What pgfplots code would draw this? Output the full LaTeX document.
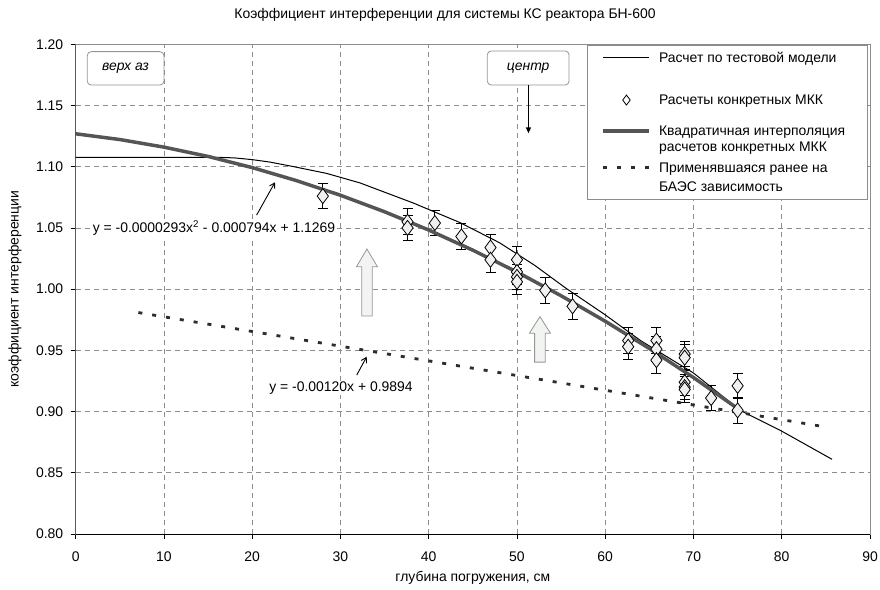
\documentclass[border=0pt]{standalone}
\usepackage{fontspec}
\setmainfont{Liberation Sans}
\usepackage{pgfplots}
\pgfplotsset{compat=1.18}
\usetikzlibrary{arrows.meta}

\definecolor{quadgray}{RGB}{85,85,85}
\definecolor{gridgray}{RGB}{140,140,140}
\definecolor{boxgray}{RGB}{150,150,150}
\definecolor{arrowfill}{RGB}{242,244,242}
\definecolor{dotgray}{RGB}{45,45,45}
\definecolor{markfill}{RGB}{240,240,240}

\tikzset{legtext/.style={anchor=base west, inner sep=0pt, text=black, font=\fontsize{14}{16}\selectfont}}

% legend rows: image + text drawn together, fixed row box
\pgfplotsset{
  legA/.style={legend image code/.code={%
    \draw[##1] (0bp,0bp) -- (46bp,0bp);
    \path[draw=none, fill=none] (0bp,-21bp) rectangle (46bp,10bp);
    \node[legtext] at (55.6bp,-4.8bp) {Расчет по тестовой модели};}},
  legB/.style={legend image code/.code={%
    \draw[##1, draw=none, mark size=5bp, mark options={fill=white, draw=black, line width=0.8bp}] plot coordinates {(23bp,0bp)};
    \path[draw=none, fill=none] (0bp,-21bp) rectangle (46bp,21.7bp);
    \node[legtext] at (55.6bp,-4.8bp) {Расчеты конкретных МКК};}},
  legC/.style={legend image code/.code={%
    \draw[##1] (0bp,0bp) -- (46bp,0bp);
    \path[draw=none, fill=none] (0bp,-27bp) rectangle (46bp,9.7bp);
    \node[legtext] at (55.6bp,-4.8bp) {Квадратичная интерполяция};
    \node[legtext] at (55.6bp,-20.8bp) {расчетов конкретных МКК};}},
  legD/.style={legend image code/.code={%
    \draw[##1] (0bp,0bp) -- (46bp,0bp);
    \path[draw=none, fill=none] (0bp,-28bp) rectangle (46bp,10bp);
    \node[legtext] at (55.6bp,-4.8bp) {Применявшаяся ранее на};
    \node[legtext] at (55.6bp,-23.8bp) {БАЭС зависимость};}},
}

\begin{document}
\begin{tikzpicture}
\begin{axis}[
  at={(0,0)}, anchor=south west,
  scale only axis, width=794.3bp, height=489.7bp,
  font=\fontsize{14}{16}\selectfont,
  xmin=0, xmax=90, ymin=0.80, ymax=1.20,
  xtick={0,10,20,30,40,50,60,70,80,90},
  ytick={0.80,0.85,0.90,0.95,1.00,1.05,1.10,1.15,1.20},
  scaled y ticks=false,
  /pgf/number format/assume math mode=true,
  yticklabel style={xshift=-4bp, /pgf/number format/fixed, /pgf/number format/fixed zerofill, /pgf/number format/precision=2},
  xticklabel style={yshift=-9bp},
  grid=major,
  grid style={gridgray, line width=0.8bp, dash pattern=on 5bp off 4bp},
  axis line style={gridgray, line width=0.8bp},
  tick style={black, line width=0.8bp},
  major tick length=5bp, tick align=outside, tick pos=left,
  title={Коэффициент интерференции для системы КС реактора БН-600},
  every axis title/.style={at={(axis description cs:0,1)}, xshift=369.3bp, yshift=29.3bp, anchor=center},
  xlabel={глубина погружения, см},
  every axis x label/.style={at={(axis description cs:0.5,0)}, yshift=-44bp, anchor=center},
  ylabel={коэффициент интерференции},
  every axis y label/.style={at={(axis description cs:0,0.5)}, xshift=-60.7bp, rotate=90, anchor=center},
  legend style={at={(axis cs:59.6,1.1975)}, anchor=north west, draw=none, fill=none,
    inner sep=0pt, outer sep=0pt, row sep=0pt, column sep=0pt, nodes={inner sep=0pt}},
]
% legend frame and text boxes
\draw[gridgray, line width=0.8bp, fill=white] (axis cs:58.0,1.0734) rectangle (axis cs:89.69,1.1994);
\draw[boxgray, line width=0.8bp, rounded corners=4bp, fill=white] (axis cs:1.31,1.1667) rectangle (axis cs:10.0,1.194);
\node[font=\fontsize{14}{16}\selectfont\itshape] at (axis cs:5.65,1.1804) {верх аз};
\draw[boxgray, line width=0.8bp, rounded corners=4bp, fill=white] (axis cs:46.64,1.1667) rectangle (axis cs:55.9,1.1946);
\node[font=\fontsize{14}{16}\selectfont\itshape] at (axis cs:51.27,1.1806) {центр};
\draw[black, line width=1.4bp, -{Triangle[length=6bp,width=5bp]}] (axis cs:51.3,1.1667) -- (axis cs:51.3,1.1273);

% hollow up arrows
\draw[boxgray, line width=0.8bp, fill=arrowfill] (axis cs:32.4,0.978) -- (axis cs:32.4,1.0183) -- (axis cs:31.81,1.0183) -- (axis cs:33,1.0328) -- (axis cs:34.19,1.0183) -- (axis cs:33.6,1.0183) -- (axis cs:33.6,0.978) -- cycle;
\draw[boxgray, line width=0.8bp, fill=arrowfill] (axis cs:52.0,0.9404) -- (axis cs:52.0,0.964) -- (axis cs:51.41,0.964) -- (axis cs:52.6,0.9776) -- (axis cs:53.79,0.964) -- (axis cs:53.2,0.964) -- (axis cs:53.2,0.9404) -- cycle;

% test model
\addplot[black, line width=1bp, legA] coordinates {
  (0,1.1077) (16,1.1077) (18,1.1072) (20,1.1058) (22,1.1038) (24.6,1.1002)
  (28.4,1.0946) (32.2,1.0868) (38.2,1.0705) (43.5,1.0545) (48,1.038)
  (52,1.0195) (55.5,1.001) (60,0.979) (64,0.958) (70,0.9315) (75.3,0.901)
  (80,0.884) (85.7,0.861)
};
\addlegendentry{\hbox{}}

% individual calculations
\addplot[only marks, mark=diamond*, mark size=7.5bp,
  mark options={fill=markfill, draw=black, line width=0.8bp},
  legB,
  error bars/.cd, y dir=both, y explicit,
  error bar style={black, line width=1bp},
  error mark options={black, mark size=5bp, line width=1bp, rotate=90}]
coordinates {
  (28.0,1.076) +- (0,0.0105)
  (37.6,1.055) +- (0,0.0105)
  (37.6,1.050) +- (0,0.0105)
  (40.7,1.054) +- (0,0.0105)
  (43.7,1.043) +- (0,0.0105)
  (47.0,1.034) +- (0,0.0105)
  (47.0,1.024) +- (0,0.0105)
  (50.0,1.024) +- (0,0.0105)
  (50.0,1.014) +- (0,0.0105)
  (50.0,1.010) +- (0,0.0105)
  (50.0,1.006) +- (0,0.0105)
  (53.2,0.999) +- (0,0.0105)
  (56.3,0.986) +- (0,0.0105)
  (62.6,0.958) +- (0,0.0105)
  (62.6,0.953) +- (0,0.0105)
  (65.8,0.958) +- (0,0.0105)
  (65.8,0.951) +- (0,0.0105)
  (65.8,0.942) +- (0,0.0105)
  (69.0,0.947) +- (0,0.0105)
  (69.0,0.944) +- (0,0.0105)
  (69.0,0.924) +- (0,0.0105)
  (69.0,0.920) +- (0,0.0105)
  (69.0,0.918) +- (0,0.0105)
  (72.0,0.911) +- (0,0.0105)
  (75.0,0.921) +- (0,0.0105)
  (75.0,0.901) +- (0,0.0105)
};
\addlegendentry{\hbox{}}

% quadratic fit
\addplot[quadgray, line width=3.5bp, legC] coordinates {
  (0,1.1269) (5,1.1222) (10,1.1160) (15,1.1084) (20,1.0993) (25,1.0887)
  (30,1.0767) (35,1.0632) (40,1.0483) (45,1.0318) (50,1.0140) (55,0.9946)
  (60,0.9738) (65,0.9515) (70,0.9278) (75,0.9025)
};
\addlegendentry{\hbox{}}

% earlier dependence
\addplot[dotgray, line width=2.8bp, dash pattern=on 4bp off 10bp, legD] coordinates {
  (7.1,0.9809) (85.0,0.8874)
};
\addlegendentry{\hbox{}}

% equations
\node[fill=white, inner sep=1bp] at (axis cs:15.67,1.0499) {y = -0.0000293x\textsuperscript{2} - 0.000794x + 1.1269};
\draw[black, line width=0.9bp, -{Straight Barb[length=5bp,width=6bp]}] (axis cs:20.5,1.0605) -- (axis cs:22.58,1.0873);
\node[fill=white, inner sep=1bp] at (axis cs:30.06,0.9192) {y = -0.00120x + 0.9894};
\draw[black, line width=0.9bp, -{Straight Barb[length=5bp,width=6bp]}] (axis cs:31.84,0.9298) -- (axis cs:32.97,0.9448);

% black left and bottom axis lines
\draw[black, line width=1bp] (rel axis cs:0,1) -- (rel axis cs:0,0) -- (rel axis cs:1,0);
\end{axis}
\pgfresetboundingbox
\path[use as bounding box] (-75.7bp,-56bp) rectangle (804.3bp,534bp);
\end{tikzpicture}
\end{document}
